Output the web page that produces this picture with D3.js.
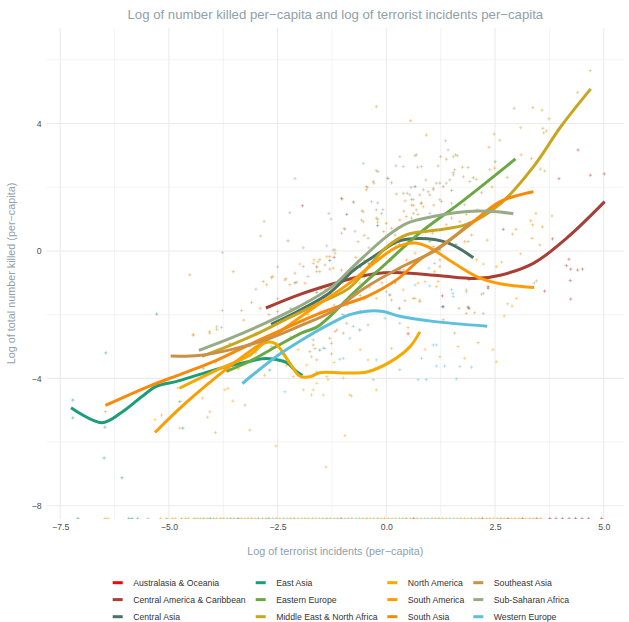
<!DOCTYPE html>
<html lang="en">
<head>
<meta charset="UTF-8">
<title>Log killed vs log incidents per capita</title>
<script src="https://d3js.org/d3.v7.min.js"></script>
<style>
  body { margin: 0; background: #fff; }
  svg text { font-family: "Liberation Sans", Arial, sans-serif; }
</style>
</head>
<body>
<div id="chart"></div>
<script>
// regions, in legend order
const regions = ["Australasia & Oceania", "Central America & Caribbean", "Central Asia", "East Asia",
  "Eastern Europe", "Middle East & North Africa", "North America", "South America",
  "South Asia", "Southeast Asia", "Sub-Saharan Africa", "Western Europe"];
const regionColors = ["#F8000B", "#A93E34", "#4A7361", "#1B9E77", "#6AA843", "#C9A620",
  "#F4AA00", "#FF9D00", "#F98A09", "#C99047", "#97AB87", "#5CC0DD"];

const xTicks = [-7.5, -5, -2.5, 0, 2.5, 5];
const xMinor = [-6.25, -3.75, -1.25, 1.25, 3.75];
const yTicks = [-8, -4, 0, 4];
const yMinor = [-6, -2, 2, 6];

// country-year points: [log incidents, log killed]
const ptsAustralasia = [[0.5, -2.6], [-0.6, -1.9], [1.9, -1.8]];
const ptsCentralAmerica = [[-1.93, 1.42], [4.41, 3.17], [3.97, 2.27], [4.69, 2.38], [5.01, 2.42], [2.69, 0.68],
  [3.82, 0.38], [3.64, -1.26], [4.24, -0.57], [4.40, -0.6], [4.51, -0.57], [4.14, -0.46], [4.2, -0.26],
  [4.23, -0.93], [4.24, -1.51], [2.34, -1.17], [1.29, -1.41], [2.34, -1.12], [0.08, -1.38], [-1.6, -0.5],
  [-1.2, -0.2], [0.3, -1.8], [-2.0, -1.9]];
const ptsCentralAsia = [[1.29, -1.75], [-0.91, 1.15], [0.66, 2.02], [-1.03, 1.65], [-0.4, -0.4], [0.9, 0.4],
  [-2.1, -1.0], [0.2, -1.0], [1.6, 0.2], [-1.3, -0.3], [1.9, -0.9], [-0.2, 0.8], [1.31, -1.75], [-1.6, -1.3],
  [-0.6, -0.5]];
const ptsEastAsia = [[-7.21, -4.68], [-7.21, -5.24], [-6.45, -3.2], [-6.47, -5.53], [-6.49, -6.5], [-6.08, -7.12],
  [-5.28, -1.98], [-4.68, -5.56], [-4.75, -4.73], [-4.21, -3.68], [1.88, -1.76], [-3.6, -3.58], [-2.68, -3.74],
  [-1.53, -3.11], [-0.61, -2.48], [0.31, -0.6], [1.23, 0.03]];
const ptsEasternEurope = [[-2.26, 0.32], [-0.2, 1.0], [0.8, 1.5], [1.5, 1.9], [2.0, 2.3], [-1.5, -2.4], [-0.5, -0.8],
  [-3.0, -3.2], [-1.0, -2.0], [0.3, 0.2], [2.5, 2.8], [-2.2, -1.8], [1.0, 0.3], [-2.6, -2.7], [-1.9, -2.2],
  [-0.9, -1.7]];
const ptsMiddleEast = [[-0.23, 4.53], [4.69, 5.66], [4.40, 4.98], [3.37, 4.50], [3.58, 4.42], [3.74, 4.15],
  [3.6, 3.85], [3.62, 3.71], [3.68, 3.77], [3.09, 3.87], [2.48, 3.67], [2.61, 3.48], [3.34, 2.9], [3.54, 2.57],
  [3.64, 2.51], [2.38, 2.55], [1.54, 2.96], [1.63, 2.99], [2.07, 2.25], [1.84, 1.15], [3.81, 1.10],
  [-0.2, 0.9], [0.5, 0.3], [1.2, 1.1], [-1.5, -1.2], [-3.0, -2.6], [-2.5, -1.9], [2.9, 0.53], [-1.0, -1.0],
  [-0.5, -0.3], [0.2, 0.2], [0.9, 0.6]];
const ptsNorthAmerica = [[-4.8, -4.3], [-4.44, -2.64], [-4.07, -2.53], [-3.93, -3.51], [-3.0, -2.6], [-2.64, -3.0],
  [-2.03, -3.10], [-1.60, -4.15], [-1.37, -3.94], [-0.99, -3.99], [-0.26, -3.68], [0.12, -3.06], [-0.42, -3.42],
  [0.89, -3.09], [1.23, -3.32], [1.65, -3.0], [1.80, -3.37], [2.45, -3.10], [2.53, -3.48], [0.5, -2.4],
  [-1.34, -4.04], [-0.84, -4.52], [-0.23, -4.36], [-1.91, -4.36], [-1.68, -4.36], [-1.45, -4.52],
  [-1.72, -4.52], [-0.80, -4.55], [-3.4, -3.7], [-2.8, -3.4], [-2.3, -3.6], [-1.2, -3.5], [-0.6, -3.1]];
const ptsSouthAmerica = [[-5.32, -5.30], [-5.17, -5.15], [-4.23, -4.62], [-4.11, -5.22], [-3.93, -5.70],
  [-3.71, -4.36], [-3.64, -4.31], [-3.53, -4.71], [-4.06, -5.05], [-4.75, -5.56], [-3.14, -5.62], [-2.54, -6.12],
  [-2.37, -3.26], [-2.14, -3.94], [-1.72, -3.32], [-1.83, -3.58], [-0.5, -1.5], [0.2, -0.7], [0.73, -1.01],
  [1.15, -1.12], [1.38, -0.81], [2.07, -0.28], [2.53, -0.49], [2.19, -1.36], [2.04, -0.81], [1.84, -1.22],
  [2.65, -0.35], [2.23, -0.41], [2.71, -2.04], [2.99, -1.49], [2.79, -1.66], [2.89, -1.73], [3.09, -0.09],
  [0.89, -0.96], [0.39, -1.22], [0.77, -1.54], [0.66, -1.49], [1.19, -0.96], [-0.38, -1.14], [-0.61, -1.01],
  [-0.23, -1.49], [-1.99, -0.41], [-1.66, -0.28], [-1.37, -0.18], [-1.18, -0.07], [-1.22, -0.54],
  [-1.39, -6.78], [-0.95, -5.8], [-2.8, -3.9], [-2.2, -2.7], [-1.5, -1.9], [-0.8, -1.6]];
const ptsSouthAsia = [[-6.46, -5.04], [-4.44, -2.63], [-4.06, -2.58], [-3.90, -2.47], [-3.52, -0.65], [-3.33, -1.87],
  [-3.28, -2.17], [-3.10, -1.62], [-2.83, -0.96], [-2.62, -0.80], [-2.75, -1.06], [-2.33, -0.91], [-2.22, -1.06],
  [-2.06, -0.98], [-1.87, -1.01], [-1.68, -0.39], [-1.60, -0.65], [-1.53, -0.27], [-1.30, -0.18], [-1.03, -0.60],
  [-0.91, -0.81], [-0.97, 0.71], [-0.53, 0.92], [-0.51, 0.49], [-0.23, 1.03], [-0.06, 0.61], [0.0, 0.87],
  [0.12, 0.71], [0.31, 0.97], [0.46, 1.08], [0.62, 1.18], [0.4, 1.25], [0.58, 1.44], [0.73, 1.15], [0.81, 1.50],
  [0.62, 1.43], [0.85, 1.39], [0.43, 1.57], [1.09, 1.44], [1.27, 1.55], [1.69, 0.92], [1.5, 1.03], [1.38, 0.82],
  [1.23, 0.66], [1.06, 0.56], [1.8, 0.29], [1.96, 0.5], [1.08, 0.14], [0.66, -0.07], [0.46, -0.28], [1.11, -0.65],
  [1.23, -0.49], [2.32, 0.34], [3.44, 1.18], [3.36, 0.82], [3.32, 0.95], [3.59, 0.76], [2.98, 0.68], [3.53, 0.19],
  [3.35, 0.4], [2.43, 2.01], [2.49, 2.6], [2.78, 2.31], [3.1, 3.02], [2.36, 3.26], [0.56, 4.09], [0.92, 3.64],
  [-4.52, -0.75], [-1.02, 1.63], [-0.56, 1.26], [-0.46, 1.92], [-0.29, 2.13], [-2.5, -1.5], [-2.0, -1.4],
  [-1.8, -2.0], [-1.4, -1.2], [-1.0, -1.3], [-0.7, -0.2], [-0.3, -0.7], [0.1, -0.3], [-2.9, -1.8], [-3.6, -2.9]];
const ptsSoutheastAsia = [[-3.25, -4.84], [-0.23, 2.52], [-0.43, 2.0], [0.03, 2.28], [0.12, 2.14], [0.23, 1.79],
  [0.39, 1.81], [0.48, 1.81], [0.57, 2.0], [0.66, 2.99], [0.72, 2.63], [1.25, 2.96], [1.38, 2.88], [1.19, 2.67],
  [1.75, 2.63], [1.88, 2.62], [1.54, 2.46], [1.23, 2.13], [1.31, 2.02], [1.46, 2.23], [0.91, 2.23], [1.08, 1.97],
  [0.96, 1.86], [0.77, 1.76], [1.0, 1.76], [0.58, 1.62], [2.19, 1.83], [2.09, 1.29], [1.88, 0.3], [-1.3, -0.57],
  [-1.41, -0.44], [-1.57, -0.34], [-1.53, -0.65], [-1.91, -0.49], [-2.10, -0.70], [-2.31, -0.87], [-2.64, -0.84],
  [-2.91, -2.78], [-3.14, -3.0], [-1.26, -2.90], [-0.99, -2.58], [-1.18, -2.53], [-1.68, -2.95], [-1.45, -3.05],
  [-1.60, -3.42], [-1.76, -3.16], [-1.26, -3.23], [-1.64, -3.06], [-1.68, -2.79], [-1.30, -2.74], [-1.83, -2.69],
  [-1.14, -2.48], [-0.42, -2.32], [-0.91, -2.27], [2.11, -2.88], [1.57, -2.58], [0.77, -1.59], [0.62, -1.49],
  [0.43, -1.56], [0.12, -1.54], [1.67, -1.8], [1.88, -1.78], [2.03, -1.94], [1.84, -1.96], [2.23, -1.96],
  [1.31, -2.16], [-2.4, -2.2], [-2.0, -2.6], [-1.2, -1.7], [-0.6, -1.4], [-0.1, -1.0], [0.4, -0.6], [-2.7, -2.0]];
const ptsSubSaharan = [[-3.77, -1.87], [-3.77, -0.05], [-2.89, 0.47], [-2.81, 0.93], [-2.10, 2.27], [-2.22, 1.2],
  [-1.91, 0.1], [-1.32, 1.18], [-1.27, 1.0], [-0.75, 1.52], [-0.2, 1.51], [-0.08, 1.3], [0.31, 2.96], [0.22, 2.67],
  [2.94, 4.48], [3.4, -1.01], [3.45, -0.94], [-3.90, -2.38], [-3.79, -2.40], [-1.37, 0.16], [-1.22, 0.03],
  [-0.95, 0.68], [-0.72, 0.62], [-1.03, 0.56], [-0.65, 0.29], [-0.42, 0.40], [-1.18, 0.03], [-0.76, 1.55],
  [-0.53, 1.23], [-0.57, 0.97], [-0.23, 1.29], [-0.11, 1.18], [0.54, 1.76], [0.62, 1.61], [0.85, 1.92],
  [1.08, 1.92], [1.15, 2.13], [1.23, 1.61], [1.38, 2.13], [1.54, 2.39], [1.57, 2.55], [1.77, 2.33], [1.92, 2.18],
  [1.50, 1.50], [1.80, 1.45], [0.58, 1.03], [0.69, 1.29], [1.00, 1.18], [1.23, -0.28], [1.11, -0.39],
  [-0.19, 2.49], [-0.30, 2.18], [0.04, 2.28], [-0.46, 2.02], [0.69, 3.02], [1.42, 3.17], [1.59, 3.02],
  [0.39, 2.65], [0.81, 2.65], [-2.5, -0.5], [-1.8, -0.8], [-1.0, -0.9], [-0.4, 0.1], [0.2, 0.5], [-3.0, -1.2]];
const ptsWesternEurope = [[-0.53, 2.75], [1.36, 3.46], [-0.34, 1.55], [-0.03, -2.11], [0.31, -2.27], [-0.84, -2.74],
  [-1.41, -3.06], [-0.99, -3.37], [-1.07, -3.40], [-0.23, -3.42], [0.31, -3.73], [0.73, -4.04], [0.92, -4.04],
  [1.61, -4.02], [0.81, -3.37], [1.15, -3.61], [1.34, -3.61], [1.69, -3.63], [1.96, -3.65], [1.08, -2.95],
  [1.15, -2.95], [1.5, -1.22], [1.54, -1.43], [0.0, -1.28], [1.53, -1.33], [1.84, -1.28], [0.66, -1.07],
  [1.0, -1.1], [-2.33, -4.42], [-0.76, -2.37], [2.23, -1.33], [0.98, -0.54], [-0.30, -4.04], [-1.6, -3.8]];

// country-years with zero killed, sitting on the floor of the axis: [log incidents, region index]
const zeroKilledY = -8.4;
const zeroKilled = [[-7.09, 3], [-6.47, 8], [-6.4, 7], [-5.92, 3], [-5.85, 3], [-5.72, 4], [-5.48, 10], [-5.19, 7],
  [-5.05, 9], [-4.92, 8], [-4.85, 6], [-4.71, 9], [-4.62, 5], [-4.55, 7], [-4.42, 9], [-4.35, 10], [-4.28, 8],
  [-4.2, 4], [-4.12, 7], [-4.05, 3], [-3.97, 9], [-3.9, 5], [-3.81, 8], [-3.74, 10], [-3.66, 7], [-3.58, 4],
  [-3.5, 9], [-3.41, 2], [-3.33, 8], [-3.25, 6], [-3.18, 10], [-3.1, 5], [-3.02, 7], [-2.94, 4], [-2.85, 9],
  [-2.77, 8], [-2.7, 3], [-2.61, 10], [-2.53, 5], [-2.45, 7], [-2.36, 9], [-2.28, 11], [-2.2, 8], [-2.12, 4],
  [-2.03, 10], [-1.95, 6], [-1.87, 9], [-1.79, 5], [-1.7, 8], [-1.62, 11], [-1.54, 7], [-1.46, 10], [-1.37, 4],
  [-1.29, 9], [-1.2, 5], [-1.12, 8], [-1.04, 2], [-0.95, 7], [-0.87, 10], [-0.79, 9], [-0.7, 11], [-0.62, 5],
  [-0.54, 8], [-0.45, 4], [-0.37, 7], [-0.29, 10], [-0.2, 9], [-0.12, 6], [-0.04, 8], [0.05, 5], [0.13, 11],
  [0.21, 7], [0.3, 10], [0.38, 9], [0.46, 4], [0.55, 8], [0.63, 1], [0.71, 5], [0.8, 7], [0.88, 11], [0.96, 10],
  [1.05, 9], [1.13, 8], [1.21, 4], [1.3, 5], [1.38, 7], [1.46, 10], [1.55, 11], [1.63, 8], [1.71, 9], [1.8, 5],
  [1.88, 7], [1.96, 4], [2.05, 10], [2.13, 8], [2.21, 1], [2.3, 5], [2.38, 9], [2.46, 7], [2.55, 8], [2.63, 4],
  [2.71, 5], [2.8, 1], [2.88, 7], [2.96, 8], [3.05, 5], [3.13, 1], [3.21, 7], [3.3, 8], [3.38, 5], [3.46, 1],
  [3.55, 8], [3.76, 0], [3.9, 1], [4.05, 1], [4.2, 1], [4.35, 0], [4.5, 1], [4.65, 1], [4.95, 0]];

// smoothed fits
const fitCentralAmerica = [[-2.77, -1.79], [-2.0, -1.37], [-1.3, -1.06], [-0.84, -0.88], [-0.3, -0.72], [0.31, -0.68],
  [1.24, -0.78], [2.08, -0.86], [2.62, -0.76], [3.39, -0.38], [4.16, 0.42], [5.02, 1.55]];
const fitCentralAsia = [[-2.65, -2.3], [-2.16, -1.98], [-1.30, -1.31], [-0.77, -0.62], [-0.15, -0.05], [0.24, 0.29],
  [0.77, 0.39], [1.40, 0.26], [2.0, -0.21]];
const fitEastAsia = [[-7.25, -4.92], [-6.54, -5.39], [-6.09, -5.07], [-5.62, -4.57], [-5.30, -4.26], [-4.84, -4.10],
  [-4.31, -3.88], [-3.68, -3.63], [-3.15, -3.47], [-2.85, -3.38], [-2.53, -3.41], [-2.30, -3.50], [-2.07, -3.78],
  [-1.93, -3.91]];
const fitEasternEurope = [[-3.68, -3.78], [-3.15, -3.47], [-2.53, -3.0], [-1.93, -2.56], [-1.61, -2.40], [-1.30, -2.06],
  [-0.84, -1.43], [0.01, -0.37], [0.77, 0.57], [1.70, 1.51], [2.97, 2.89]];
const fitMiddleEast = [[-4.24, -3.31], [-3.55, -2.94], [-2.92, -2.56], [-2.23, -2.09], [-1.61, -1.68], [-0.84, -1.15],
  [-0.38, -0.45], [0.01, 0.13], [0.47, 0.51], [1.07, 0.64], [1.86, 0.84], [2.62, 1.48], [3.38, 2.64], [4.01, 3.90],
  [4.70, 5.09]];
const fitNorthAmerica = [[-4.76, -4.31], [-3.90, -3.74], [-3.14, -3.27], [-2.79, -2.88], [-2.56, -2.9], [-2.22, -3.52],
  [-1.99, -3.93], [-1.76, -3.95], [-1.53, -3.82], [-1.0, -3.83], [-0.45, -3.80], [0.08, -3.49], [0.54, -3.01],
  [0.77, -2.54]];
const fitSouthAmerica = [[-5.32, -5.70], [-4.70, -4.88], [-3.92, -3.97], [-3.15, -3.16], [-2.39, -2.47], [-1.61, -1.72],
  [-0.84, -1.0], [-0.27, -0.36], [0.24, 0.12], [0.66, 0.25], [1.0, 0.1], [1.54, -0.37], [2.09, -0.81], [2.62, -1.03],
  [3.40, -1.15]];
const fitSouthAsia = [[-6.46, -4.85], [-5.46, -4.25], [-4.69, -3.85], [-3.92, -3.44], [-3.15, -2.94], [-2.39, -2.47],
  [-1.61, -2.00], [-0.84, -1.62], [-0.45, -1.43], [0.24, -0.90], [0.77, -0.27], [1.24, 0.14], [1.86, 0.76],
  [2.62, 1.55], [3.38, 1.86]];
const fitSoutheastAsia = [[-4.96, -3.30], [-4.31, -3.28], [-3.55, -3.09], [-2.76, -2.78], [-2.0, -2.36], [-1.24, -1.89],
  [-0.54, -1.2], [0.38, -0.48], [1.16, 0.04], [1.93, 0.88]];
const fitSubSaharan = [[-4.31, -3.12], [-3.55, -2.72], [-2.76, -2.25], [-2.0, -1.74], [-1.24, -1.11], [-0.77, -0.5],
  [0.01, 0.46], [0.47, 0.87], [1.07, 1.08], [1.86, 1.24], [2.46, 1.24], [2.92, 1.17]];
const fitWesternEurope = [[-3.31, -4.16], [-2.53, -3.31], [-2.0, -2.84], [-1.24, -2.25], [-0.84, -2.0], [-0.45, -1.89],
  [-0.08, -1.90], [0.31, -2.05], [1.07, -2.21], [2.32, -2.36]];

const pointSets = [ptsAustralasia, ptsCentralAmerica, ptsCentralAsia, ptsEastAsia, ptsEasternEurope, ptsMiddleEast,
  ptsNorthAmerica, ptsSouthAmerica, ptsSouthAsia, ptsSoutheastAsia, ptsSubSaharan, ptsWesternEurope];
const fitSets = [null, fitCentralAmerica, fitCentralAsia, fitEastAsia, fitEasternEurope, fitMiddleEast,
  fitNorthAmerica, fitSouthAmerica, fitSouthAsia, fitSoutheastAsia, fitSubSaharan, fitWesternEurope];

// build one flat table of points
const points = [];
pointSets.forEach((set, i) => set.forEach(d => points.push({ x: d[0], y: d[1], r: i })));
zeroKilled.forEach(d => points.push({ x: d[0], y: zeroKilledY, r: d[1] }));

const width = 629, height = 622;
const panel = { left: 46.7, right: 624, top: 28, bottom: 519 };

const x = d3.scaleLinear().domain([-7.81, 5.465]).range([panel.left, panel.right]);
const y = d3.scaleLinear().domain([-8.414, 7.0]).range([panel.bottom, panel.top]);

const svg = d3.select("#chart").append("svg")
  .attr("width", width)
  .attr("height", height);

svg.append("defs").append("clipPath").attr("id", "panelClip")
  .append("rect")
  .attr("x", panel.left).attr("y", panel.top)
  .attr("width", panel.right - panel.left).attr("height", panel.bottom - panel.top);

// grid
const grid = svg.append("g");
grid.selectAll(".vminor").data(xMinor).enter().append("line")
  .attr("x1", d => x(d)).attr("x2", d => x(d))
  .attr("y1", panel.top).attr("y2", panel.bottom)
  .attr("stroke", "#EBEBEB").attr("stroke-width", 0.6);
grid.selectAll(".hminor").data(yMinor).enter().append("line")
  .attr("y1", d => y(d)).attr("y2", d => y(d))
  .attr("x1", panel.left).attr("x2", panel.right)
  .attr("stroke", "#EBEBEB").attr("stroke-width", 0.6);
grid.selectAll(".vmajor").data(xTicks).enter().append("line")
  .attr("x1", d => x(d)).attr("x2", d => x(d))
  .attr("y1", panel.top).attr("y2", panel.bottom)
  .attr("stroke", "#EBEBEB").attr("stroke-width", 1.1);
grid.selectAll(".hmajor").data(yTicks).enter().append("line")
  .attr("y1", d => y(d)).attr("y2", d => y(d))
  .attr("x1", panel.left).attr("x2", panel.right)
  .attr("stroke", "#EBEBEB").attr("stroke-width", 1.1);

// axes (labels only)
const xAxis = svg.append("g")
  .attr("transform", `translate(0,${panel.bottom})`)
  .call(d3.axisBottom(x).tickValues(xTicks).tickFormat(d3.format(".1f")).tickSize(0).tickPadding(5));
const yAxis = svg.append("g")
  .attr("transform", `translate(${panel.left},0)`)
  .call(d3.axisLeft(y).tickValues(yTicks).tickFormat(d3.format("d")).tickSize(0).tickPadding(5));
[xAxis, yAxis].forEach(a => {
  a.select(".domain").remove();
  a.selectAll("text")
    .style("font-family", '"Liberation Sans", Arial, sans-serif')
    .style("font-size", "8.7px")
    .attr("fill", "#4D4D4D");
});

const plot = svg.append("g").attr("clip-path", "url(#panelClip)");

// scatter, thin crosses
plot.append("g").selectAll("path").data(points).enter().append("path")
  .attr("d", "M-1.7,0H1.7M0,-1.7V1.7")
  .attr("transform", d => `translate(${x(d.x)},${y(d.y)})`)
  .attr("stroke", d => regionColors[d.r])
  .attr("stroke-opacity", 0.4)
  .attr("stroke-width", 1)
  .attr("fill", "none");

// smoothed lines
const line = d3.line()
  .x(d => x(d[0]))
  .y(d => y(d[1]))
  .curve(d3.curveCatmullRom.alpha(0.5));

fitSets.forEach((fit, i) => {
  if (!fit) return;
  plot.append("path")
    .datum(fit)
    .attr("d", line)
    .attr("fill", "none")
    .attr("stroke", regionColors[i])
    .attr("stroke-width", 3)
    .attr("stroke-linecap", "butt");
});

// titles
svg.append("text")
  .attr("x", (panel.left + panel.right) / 2)
  .attr("y", 19)
  .attr("text-anchor", "middle")
  .attr("fill", "#8FA1A9")
  .style("font-size", "13.2px")
  .text("Log of number killed per\u2212capita and log of terrorist incidents per\u2212capita");

svg.append("text")
  .attr("x", (panel.left + panel.right) / 2)
  .attr("y", 555)
  .attr("text-anchor", "middle")
  .attr("fill", "#8FA1A9")
  .style("font-size", "10.8px")
  .text("Log of terrorist incidents (per\u2212capita)");

svg.append("text")
  .attr("transform", `translate(15,${(panel.top + panel.bottom) / 2}) rotate(-90)`)
  .attr("text-anchor", "middle")
  .attr("fill", "#8FA1A9")
  .style("font-size", "10.8px")
  .text("Log of total number killed (per\u2212capita)");

// legend, 4 columns filled top to bottom
const legendCols = [112.7, 255.7, 387.3, 473.3];
const legendRows = [582.7, 599.6, 616.7];
const legend = svg.append("g");
regions.forEach((name, i) => {
  const cx = legendCols[Math.floor(i / 3)];
  const cy = legendRows[i % 3];
  legend.append("line")
    .attr("x1", cx).attr("x2", cx + 10)
    .attr("y1", cy).attr("y2", cy)
    .attr("stroke", regionColors[i])
    .attr("stroke-width", 3);
  legend.append("text")
    .attr("x", cx + 20.5)
    .attr("y", cy + 3.1)
    .attr("fill", "#333333")
    .style("font-size", "8.7px")
    .text(name);
});
</script>
</body>
</html>
